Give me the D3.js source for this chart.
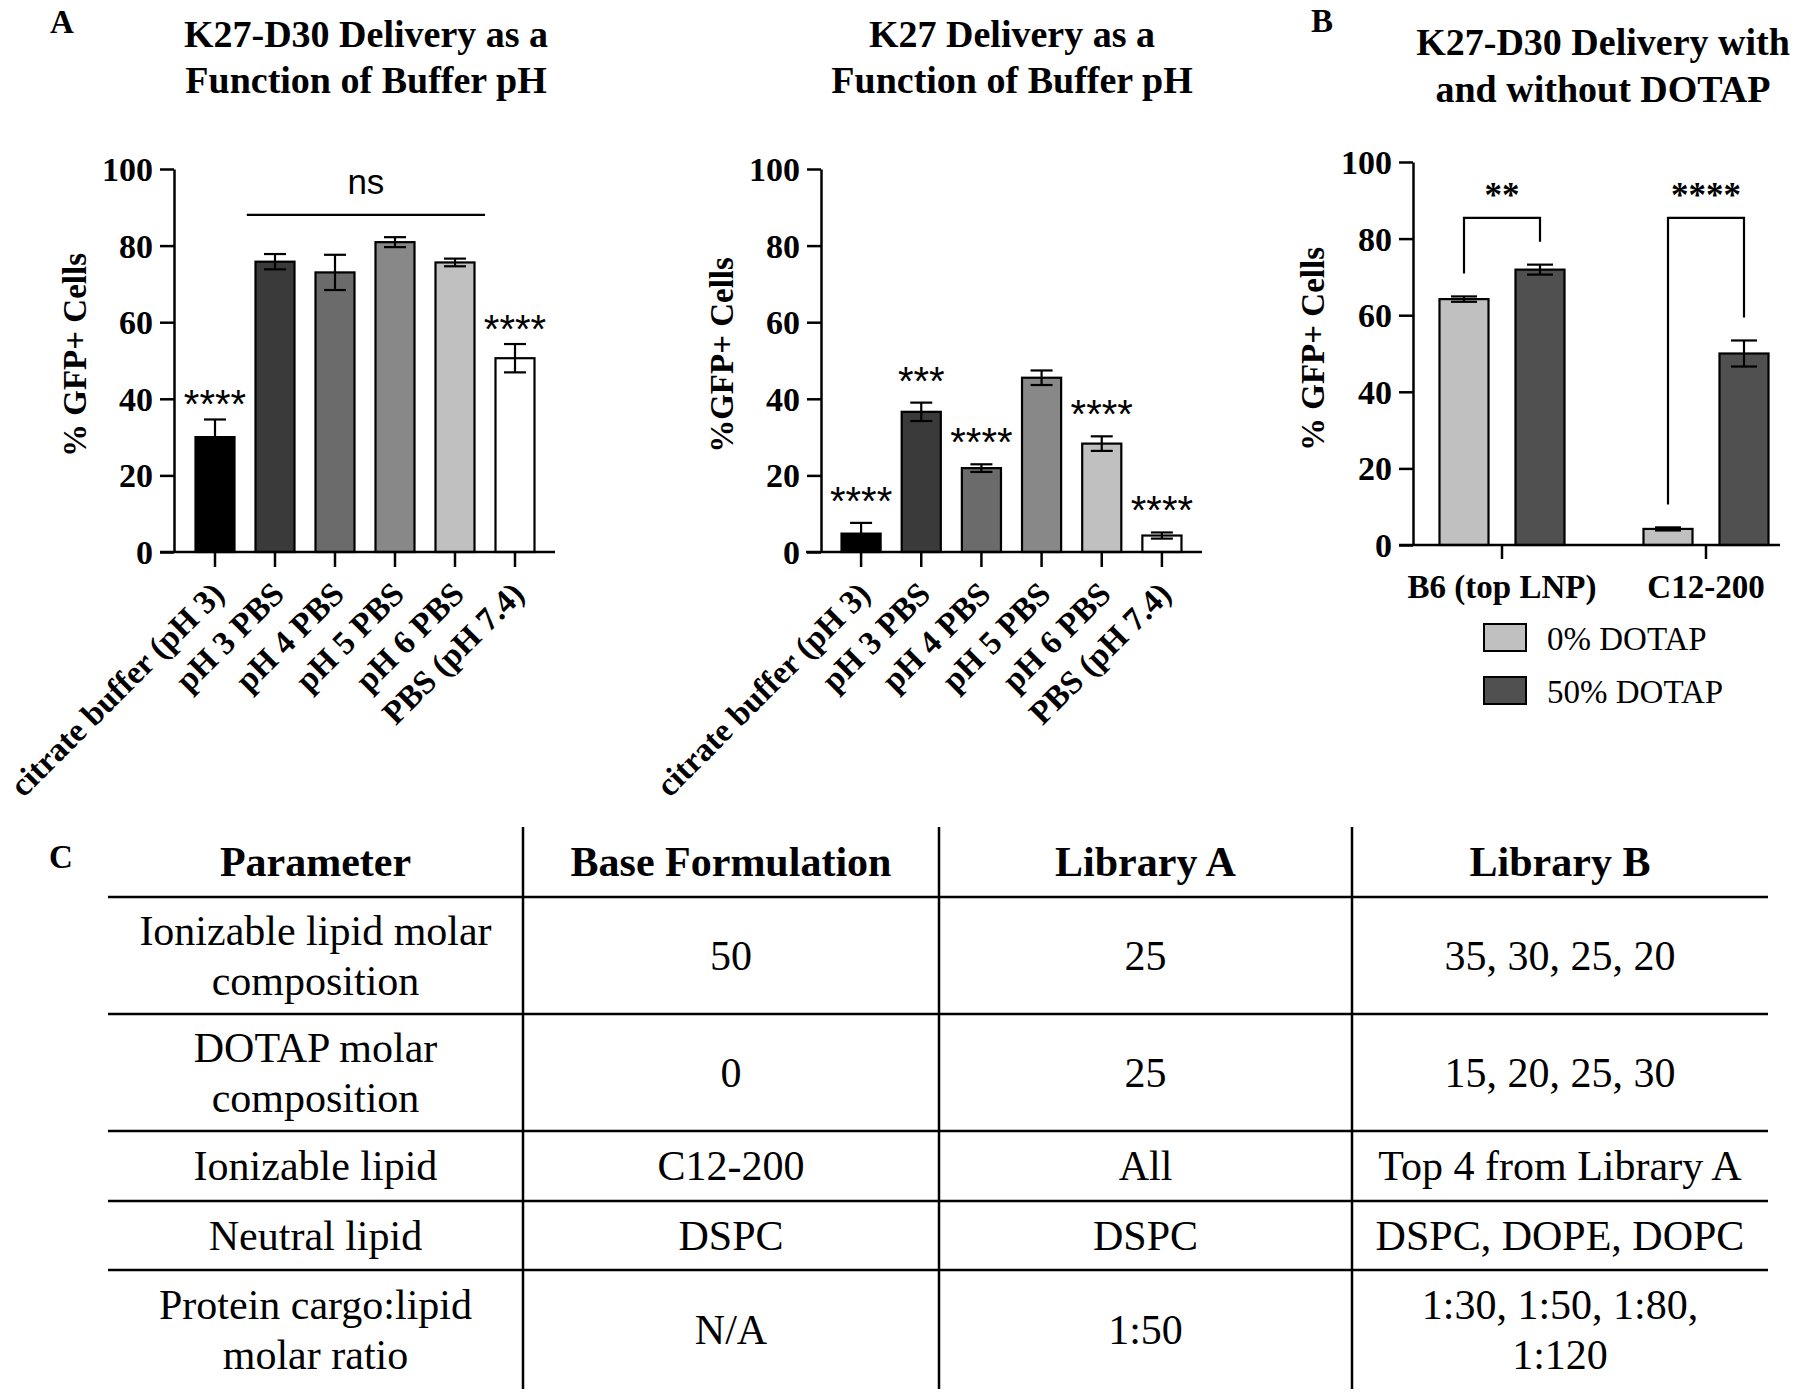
<!DOCTYPE html>
<html>
<head>
<meta charset="utf-8">
<script src="https://cdn.jsdelivr.net/npm/d3@7"></script>
<style>
body { margin: 0; background: #fff; }
svg text { font-family: "Liberation Serif", "Times New Roman", Times, serif; fill: #000; }
</style>
</head>
<body>
<div id="fig"></div>
<script>

// panel A data
var bufferCats = ["citrate buffer (pH 3)", "pH 3 PBS", "pH 4 PBS", "pH 5 PBS", "pH 6 PBS", "PBS (pH 7.4)"]
var k27d30Mean = [30.0, 75.8, 73.0, 80.9, 75.6, 50.6]
var k27d30Err = [4.6, 2.0, 4.6, 1.3, 1.0, 3.7]
var k27d30Sig = ["****", "", "", "", "", "****"]
var k27Mean = [4.8, 36.6, 21.9, 45.5, 28.3, 4.3]
var k27Err = [2.8, 2.4, 1.0, 1.9, 1.9, 0.8]
var k27Sig = ["****", "***", "****", "", "****", "****"]
var nsSpan = ["pH 3 PBS", "pH 6 PBS"]
var nsLevel = 88
var yTicks = [0, 20, 40, 60, 80, 100]

// panel B data
var lnpCats = ["B6 (top LNP)", "C12-200"]
var dotapSeries = ["0% DOTAP", "50% DOTAP"]
var dotap0Mean = [64.2, 4.2]
var dotap0Err = [0.7, 0.4]
var dotap50Mean = [71.9, 50.0]
var dotap50Err = [1.3, 3.4]
var dotapSig = ["**", "****"]
var bracketLevel = 85.4

// panel C table
var tableHeader = ["Parameter", "Base Formulation", "Library A", "Library B"]
var tableRows = [
	[["Ionizable lipid molar", "composition"], ["50"], ["25"], ["35, 30, 25, 20"]],
	[["DOTAP molar", "composition"], ["0"], ["25"], ["15, 20, 25, 30"]],
	[["Ionizable lipid"], ["C12-200"], ["All"], ["Top 4 from Library A"]],
	[["Neutral lipid"], ["DSPC"], ["DSPC"], ["DSPC, DOPE, DOPC"]],
	[["Protein cargo:lipid", "molar ratio"], ["N/A"], ["1:50"], ["1:30, 1:50, 1:80,", "1:120"]]
]

var bufferFills = ["#000000", "#3a3a3a", "#6b6b6b", "#888888", "#c0c0c0", "#ffffff"]
var dotapFills = ["#c0c0c0", "#505050"]
var SANS = '"Liberation Sans", Arial, Helvetica, sans-serif'

var svg = d3.select('#fig').append('svg')
	.attr('width', 1800)
	.attr('height', 1394)
svg.append('rect').attr('width', 1800).attr('height', 1394).attr('fill', '#fff')

function panelLetter(txt, x, y) {
	svg.append('text').attr('x', x).attr('y', y)
		.attr('font-size', 33).attr('font-weight', 'bold').text(txt)
}

function title(lines, cx, ys) {
	lines.forEach(function (t, i) {
		svg.append('text').attr('x', cx).attr('y', ys[i])
			.attr('text-anchor', 'middle').attr('font-size', 38).attr('font-weight', 'bold')
			.text(t)
	})
}

function yAxis(y, x0, label, labelX, labelY) {
	var g = svg.append('g').attr('transform', 'translate(' + x0 + ',0)')
		.call(d3.axisLeft(y).tickValues(yTicks).tickSize(14).tickPadding(7).tickSizeOuter(0))
	g.attr('font-family', null).attr('font-size', null)
	g.selectAll('path, line').attr('stroke', '#000').attr('stroke-width', 2.5)
	g.selectAll('text').attr('font-size', 34).attr('font-weight', 'bold').attr('dy', '0.34em')

	svg.append('text')
		.attr('transform', 'translate(' + labelX + ',' + labelY + ') rotate(-90)')
		.attr('text-anchor', 'middle').attr('font-size', 33).attr('font-weight', 'bold')
		.text(label)
}

function errorBar(g, cx, y, mean, err, cap) {
	var top = y(mean + err), bot = y(mean - err)
	g.append('line').attr('x1', cx).attr('x2', cx).attr('y1', top).attr('y2', bot)
	g.append('line').attr('x1', cx - cap / 2).attr('x2', cx + cap / 2).attr('y1', top).attr('y2', top)
	g.append('line').attr('x1', cx - cap / 2).attr('x2', cx + cap / 2).attr('y1', bot).attr('y2', bot)
}

function bufferChart(means, errs, sigs, L) {
	var y = d3.scaleLinear().domain([0, 100]).range([552, 169])
	var x = d3.scaleBand().domain(bufferCats).range(L.band).paddingInner(0.35).paddingOuter(0.175)

	var bars = svg.append('g')
	bars.selectAll('rect').data(means).enter().append('rect')
		.attr('x', function (d, i) { return x(bufferCats[i]) })
		.attr('y', function (d) { return y(d) })
		.attr('width', x.bandwidth())
		.attr('height', function (d) { return y(0) - y(d) })
		.attr('fill', function (d, i) { return bufferFills[i] })
		.attr('stroke', '#000').attr('stroke-width', 2.2)

	var eb = svg.append('g').attr('stroke', '#000').attr('stroke-width', 2.2)
	means.forEach(function (m, i) {
		errorBar(eb, x(bufferCats[i]) + x.bandwidth() / 2, y, m, errs[i], 22)
	})

	sigs.forEach(function (s, i) {
		if (!s) return
		svg.append('text')
			.attr('x', x(bufferCats[i]) + x.bandwidth() / 2)
			.attr('y', y(means[i] + errs[i]) - L.sigGap + 22)
			.attr('text-anchor', 'middle').attr('font-size', 40)
			.style('font-family', SANS)
			.text(s)
	})

	yAxis(y, L.axisX, L.ylabel, L.labelX, 355)

	// x axis
	svg.append('line').attr('x1', L.xLine[0]).attr('x2', L.xLine[1])
		.attr('y1', y(0)).attr('y2', y(0)).attr('stroke', '#000').attr('stroke-width', 2.5)
	var xa = svg.append('g').attr('transform', 'translate(0,' + y(0) + ')')
		.call(d3.axisBottom(x).tickSize(15).tickSizeOuter(0))
	xa.attr('font-family', null).attr('font-size', null)
	xa.select('.domain').remove()
	xa.selectAll('line').attr('stroke', '#000').attr('stroke-width', 2.5)
	xa.selectAll('text')
		.attr('y', 0).attr('dy', 0)
		.attr('transform', 'translate(11,44) rotate(-45)')
		.attr('text-anchor', 'end').attr('font-size', 33).attr('font-weight', 'bold')

	return { x: x, y: y }
}

panelLetter('A', 50, 33)
title(['K27-D30 Delivery as a', 'Function of Buffer pH'], 366, [47, 93])
var c1 = bufferChart(k27d30Mean, k27d30Err, k27d30Sig, {
	band: [185, 545], axisX: 174, xLine: [160, 555], ylabel: '% GFP+ Cells', labelX: 86, sigGap: 23
})

// ns bracket over the PBS bars
var nsX0 = c1.x(nsSpan[0]) + c1.x.bandwidth() / 2 - c1.x.step() * 0.47
var nsX1 = c1.x(nsSpan[1]) + c1.x.bandwidth() / 2 + c1.x.step() * 0.5
svg.append('line').attr('x1', nsX0).attr('x2', nsX1)
	.attr('y1', c1.y(nsLevel)).attr('y2', c1.y(nsLevel))
	.attr('stroke', '#000').attr('stroke-width', 2.2)
svg.append('text').attr('x', (nsX0 + nsX1) / 2).attr('y', c1.y(nsLevel) - 21)
	.attr('text-anchor', 'middle').attr('font-size', 35).style('font-family', SANS)
	.text('ns')

title(['K27 Delivery as a', 'Function of Buffer pH'], 1012, [47, 93])
bufferChart(k27Mean, k27Err, k27Sig, {
	band: [831, 1192], axisX: 821, xLine: [806, 1202], ylabel: '%GFP+ Cells', labelX: 733, sigGap: 30
})

// panel B
panelLetter('B', 1311, 32)
title(['K27-D30 Delivery with', 'and without DOTAP'], 1603, [55, 102])

var yB = d3.scaleLinear().domain([0, 100]).range([545, 162])
var xB = d3.scaleBand().domain(lnpCats).range([1400, 1808])
var xSub = d3.scaleBand().domain(dotapSeries).range([-76, 76]).paddingInner(0.355).paddingOuter(0.1775)
var seriesMeans = [dotap0Mean, dotap50Mean]
var seriesErrs = [dotap0Err, dotap50Err]

function subCenter(ci, si) {
	return xB(lnpCats[ci]) + xB.bandwidth() / 2 + xSub(dotapSeries[si]) + xSub.bandwidth() / 2
}

dotapSeries.forEach(function (s, si) {
	svg.append('g').selectAll('rect').data(seriesMeans[si]).enter().append('rect')
		.attr('x', function (d, ci) { return subCenter(ci, si) - xSub.bandwidth() / 2 })
		.attr('y', function (d) { return yB(d) })
		.attr('width', xSub.bandwidth())
		.attr('height', function (d) { return yB(0) - yB(d) })
		.attr('fill', dotapFills[si])
		.attr('stroke', '#000').attr('stroke-width', 2.2)
	var eb = svg.append('g').attr('stroke', '#000').attr('stroke-width', 2.2)
	seriesMeans[si].forEach(function (m, ci) {
		errorBar(eb, subCenter(ci, si), yB, m, seriesErrs[si][ci], 26)
	})
})

// brackets
lnpCats.forEach(function (c, ci) {
	var xl = subCenter(ci, 0), xr = subCenter(ci, 1)
	var legL = dotap0Mean[ci] + dotap0Err[ci] + 6
	var legR = dotap50Mean[ci] + dotap50Err[ci] + 6
	svg.append('path')
		.attr('d', 'M' + xl + ',' + yB(legL) + 'V' + yB(bracketLevel) + 'H' + xr + 'V' + yB(legR))
		.attr('fill', 'none').attr('stroke', '#000').attr('stroke-width', 2.2)
	svg.append('text').attr('x', (xl + xr) / 2).attr('y', yB(91.6) + 13)
		.attr('text-anchor', 'middle').attr('font-size', 35).attr('font-weight', 'bold')
		.text(dotapSig[ci])
})

yAxis(yB, 1413, '% GFP+ Cells', 1324, 349)
svg.append('line').attr('x1', 1399).attr('x2', 1780)
	.attr('y1', yB(0)).attr('y2', yB(0)).attr('stroke', '#000').attr('stroke-width', 2.5)
var xaB = svg.append('g').attr('transform', 'translate(0,' + yB(0) + ')')
	.call(d3.axisBottom(xB).tickSize(14).tickSizeOuter(0))
xaB.attr('font-family', null).attr('font-size', null)
xaB.select('.domain').remove()
xaB.selectAll('line').attr('stroke', '#000').attr('stroke-width', 2.5)
xaB.selectAll('text').attr('y', 53).attr('dy', 0)
	.attr('font-size', 33).attr('font-weight', 'bold')

// legend
dotapSeries.forEach(function (s, si) {
	var ly = 624 + si * 53
	svg.append('rect').attr('x', 1484).attr('y', ly).attr('width', 42).attr('height', 27)
		.attr('fill', dotapFills[si]).attr('stroke', '#000').attr('stroke-width', 2)
	svg.append('text').attr('x', 1547).attr('y', ly + 26)
		.attr('font-size', 33).text(s)
})

// panel C table
panelLetter('C', 49, 868)
var colX = [108, 523, 939, 1352, 1768]
var rowY = [827, 897, 1014, 1131, 1201, 1270, 1389]
var tbl = svg.append('g')

rowY.slice(1, 6).forEach(function (ry) {
	tbl.append('line').attr('x1', colX[0]).attr('x2', colX[4]).attr('y1', ry).attr('y2', ry)
		.attr('stroke', '#000').attr('stroke-width', 2.5)
})
colX.slice(1, 4).forEach(function (cx) {
	tbl.append('line').attr('x1', cx).attr('x2', cx).attr('y1', rowY[0]).attr('y2', rowY[6])
		.attr('stroke', '#000').attr('stroke-width', 2.5)
})

function cell(lines, ci, ri, bold) {
	var cx = (colX[ci] + colX[ci + 1]) / 2
	var cy = (rowY[ri] + rowY[ri + 1]) / 2
	var lh = 50
	lines.forEach(function (t, k) {
		tbl.append('text')
			.attr('x', cx)
			.attr('y', cy + (k - (lines.length - 1) / 2) * lh + 14)
			.attr('text-anchor', 'middle').attr('font-size', 42)
			.attr('font-weight', bold ? 'bold' : 'normal')
			.text(t)
	})
}

tableHeader.forEach(function (h, ci) { cell([h], ci, 0, true) })
tableRows.forEach(function (row, ri) {
	row.forEach(function (lines, ci) { cell(lines, ci, ri + 1, false) })
})

</script>
</body>
</html>
